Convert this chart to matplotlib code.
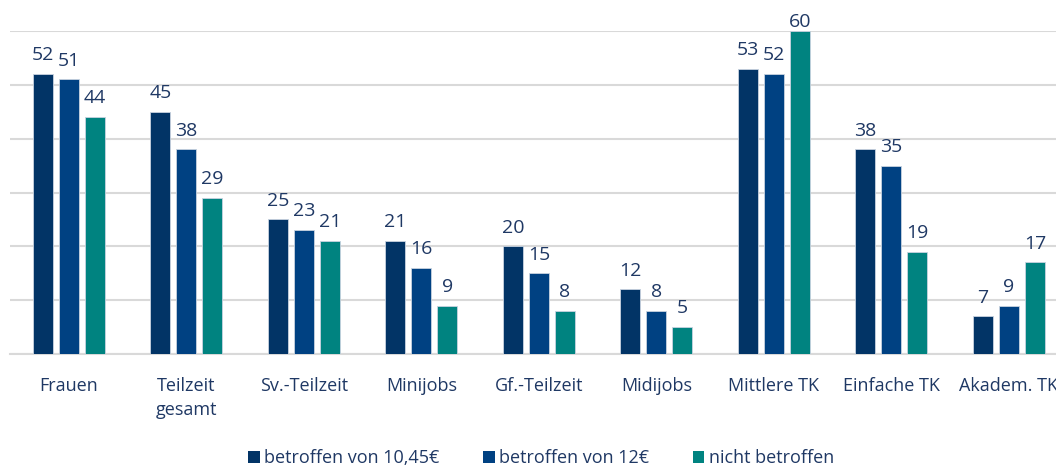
import matplotlib.pyplot as plt
import numpy as np

categories = ['Frauen', 'Teilzeit\ngesamt', 'Sv.-Teilzeit', 'Minijobs', 'Gf.-Teilzeit',
              'Midijobs', 'Mittlere TK', 'Einfache TK', 'Akadem. TK']
series_names = ['betroffen von 10,45€', 'betroffen von 12€', 'nicht betroffen']
betroffen_1045 = [52, 45, 25, 21, 20, 12, 53, 38, 7]
betroffen_12 = [51, 38, 23, 16, 15, 8, 52, 35, 9]
nicht_betroffen = [44, 29, 21, 9, 8, 5, 60, 19, 17]

colors = ['#023466', '#004182', '#008380']
text_color = '#1F3864'
plt.rcParams['font.family'] = ['Open Sans', 'DejaVu Sans']

fig = plt.figure(figsize=(10.56, 4.68), dpi=100)
ax = fig.add_axes([10 / 1056, 114 / 468, 1 - 10 / 1056, 323 / 468])

x = np.arange(len(categories))
width = 0.17
step = 0.221
for i, (vals, name) in enumerate(zip([betroffen_1045, betroffen_12, nicht_betroffen], series_names)):
    bars = ax.bar(x + (i - 1) * step, vals, width, color=colors[i], label=name,
                  edgecolor='#C9D3E0', linewidth=0.6, zorder=3)
    for b, v in zip(bars, vals):
        # labels are kept inside the chart area, like Excel does
        ax.text(b.get_x() + b.get_width() / 2, min(v + 1.8, 60), str(v), ha='center', va='bottom',
                fontsize=14, color=text_color, clip_on=False)

ax.set_xlim(-0.5, 8.4)
ax.set_ylim(0, 60)
ax.set_yticks(np.arange(0, 61, 10))
ax.yaxis.grid(True, color='#D9D9D9', linewidth=1.5, zorder=0)
ax.tick_params(axis='y', left=False, labelleft=False)
ax.tick_params(axis='x', bottom=False, labelsize=13, labelcolor=text_color, pad=13)
ax.set_xticks(x)
ax.set_xticklabels(categories, linespacing=1.45, va='top')
for s in ['top', 'right', 'left']:
    ax.spines[s].set_visible(False)
ax.spines['bottom'].set_color('#D9D9D9')
ax.spines['bottom'].set_linewidth(1.5)

leg = fig.legend(loc='center', bbox_to_anchor=(541 / 1056, 1 - 458 / 468), ncol=3, frameon=False,
                 fontsize=13, handlelength=0.65, handleheight=0.65, handletextpad=0.25,
                 columnspacing=2.4, labelcolor=text_color)
for h in leg.legend_handles:
    h.set_linewidth(0)

fig.savefig('out.png', dpi=100)
